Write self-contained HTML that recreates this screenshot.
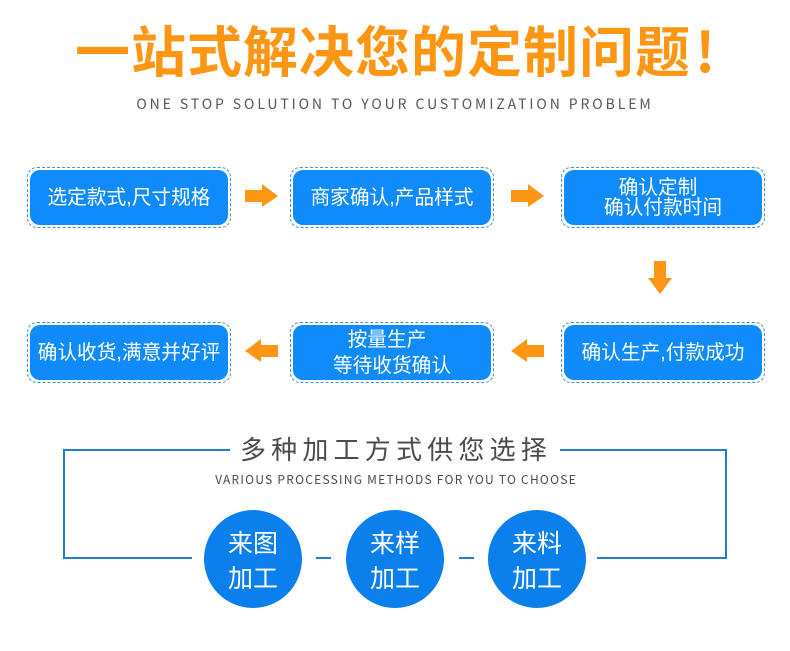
<!DOCTYPE html>
<html><head><meta charset="utf-8">
<style>
html,body{margin:0;padding:0;background:#fff}
#p{position:relative;width:790px;height:651px;overflow:hidden;background:#fff;font-family:"Liberation Sans","Noto Sans CJK SC",sans-serif}
.t{position:absolute;white-space:nowrap;text-align:center}
.n{font-family:"Noto Sans CJK SC",sans-serif}
.o{position:absolute;width:202px;height:59px;border:1px dashed #3a93d6;border-radius:10px;box-sizing:content-box}
.b{position:absolute;left:2px;top:2px;width:198px;height:55px;background:#0f8bfb;border-radius:10px;color:#fff;font-size:19.7px;line-height:20px;display:flex;align-items:center;justify-content:center;text-align:center;white-space:nowrap}
.b span{display:block}
.c{position:absolute;width:98px;height:98px;top:510px;border-radius:50%;background:#0b80ec;color:#fff;font-size:25px;line-height:35px;text-align:center;font-family:"Noto Sans CJK SC",sans-serif}
.c div{padding-top:15px}
.l{position:absolute;background:#1f7fd0}
svg{position:absolute}
</style></head><body>
<div id="p">
<div class="t n" style="left:75px;top:8px;text-align:left;font-size:55px;line-height:80px;font-weight:700;color:#fd9613;letter-spacing:1px">一站式解决您的定制问题</div>
<div class="t n" style="left:695px;top:8px;text-align:left;font-size:55px;line-height:80px;font-weight:700;color:#fd9613">!</div>
<div class="t n" style="left:0;top:94px;width:790px;font-size:14px;line-height:20px;color:#555;letter-spacing:2.9px">ONE STOP SOLUTION TO YOUR CUSTOMIZATION PROBLEM</div>

<div class="o" style="left:27px;top:167px"><div class="b">选定款式,尺寸规格</div></div>
<div class="o" style="left:290px;top:167px"><div class="b">商家确认,产品样式</div></div>
<div class="o" style="left:561px;top:167px"><div class="b"><div><span style="position:relative;left:-5px">确认定制</span><span>确认付款时间</span></div></div></div>
<div class="o" style="left:27px;top:322px"><div class="b">确认收货,满意并好评</div></div>
<div class="o" style="left:290px;top:322px"><div class="b" style="line-height:26px"><div><span style="position:relative;left:-5px">按量生产</span><span>等待收货确认</span></div></div></div>
<div class="o" style="left:561px;top:322px"><div class="b">确认生产,付款成功</div></div>

<svg width="790" height="651" style="left:0;top:0">
<g fill="#fd9613">
<polygon points="245,190 262,190 262,184 278,196 262,207 262,202 245,202"/>
<polygon points="511,190 528,190 528,184 544,196 528,207 528,202 511,202"/>
<polygon points="654,261 666,261 666,278 672,278 660,294 648,278 654,278"/>
<polygon points="544,345 527,345 527,339 511,351 527,362 527,357 544,357"/>
<polygon points="278,345 261,345 261,339 245,351 261,362 261,357 278,357"/>
</g>
</svg>

<div class="l" style="left:63px;top:449px;width:167px;height:2px"></div>
<div class="l" style="left:63px;top:449px;width:2px;height:110px"></div>
<div class="l" style="left:63px;top:557px;width:129px;height:2px"></div>
<div class="l" style="left:560px;top:449px;width:167px;height:2px"></div>
<div class="l" style="left:725px;top:449px;width:2px;height:110px"></div>
<div class="l" style="left:597px;top:557px;width:130px;height:2px"></div>
<div class="l" style="left:316px;top:557px;width:15px;height:2px"></div>
<div class="l" style="left:459px;top:557px;width:15px;height:2px"></div>

<div class="t n" style="left:1px;top:431px;width:790px;font-size:26px;line-height:36px;color:#4a4a4a;letter-spacing:5.2px">多种加工方式供您选择</div>
<div class="t n" style="left:1px;top:471px;width:790px;font-size:12px;line-height:18px;color:#4a4a4a;letter-spacing:1.24px">VARIOUS PROCESSING METHODS FOR YOU TO CHOOSE</div>

<div class="c" style="left:204px"><div>来图<br>加工</div></div>
<div class="c" style="left:346px"><div>来样<br>加工</div></div>
<div class="c" style="left:488px"><div>来料<br>加工</div></div>
</div>
</body></html>
